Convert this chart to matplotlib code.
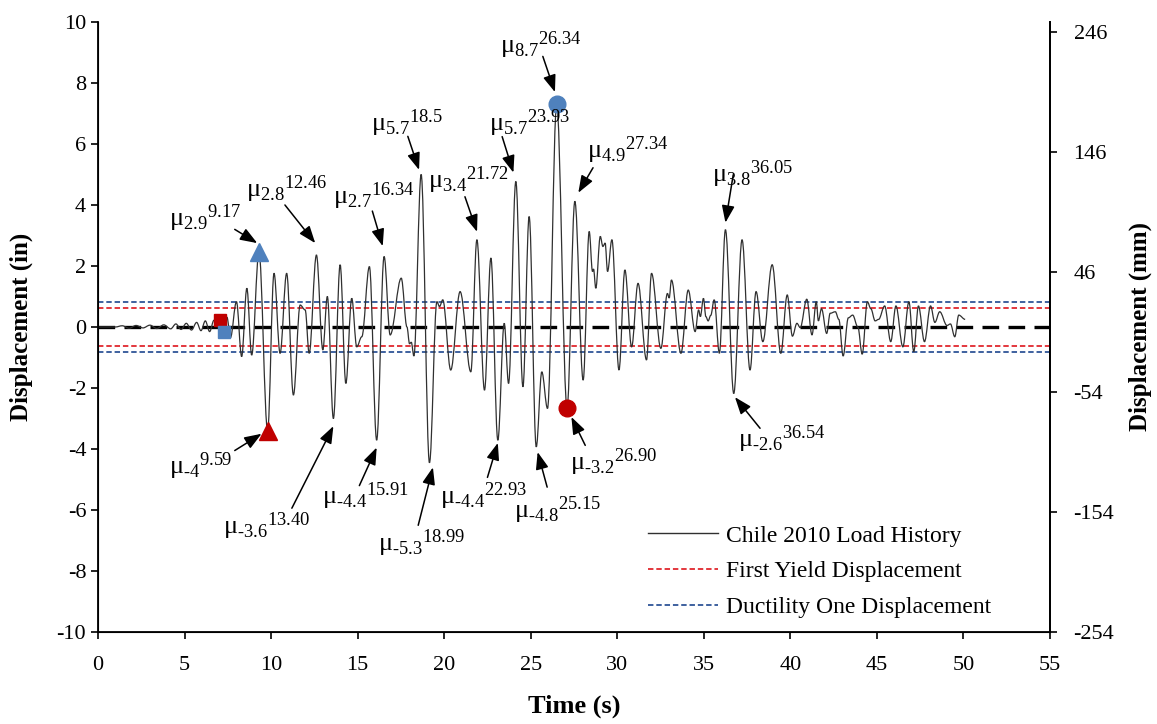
import matplotlib
matplotlib.use("Agg")
import matplotlib.pyplot as plt
from matplotlib.path import Path
from matplotlib.patches import PathPatch

plt.rcParams['font.family'] = ['Liberation Serif', 'DejaVu Serif']
plt.rcParams['mathtext.fontset'] = 'custom'
plt.rcParams['mathtext.rm'] = 'Liberation Serif'
plt.rcParams['mathtext.it'] = 'Liberation Serif'
plt.rcParams['axes.unicode_minus'] = False

# load history, peaks (s, in)
time_s = [0, 1.0, 1.4, 1.8, 2.2, 2.6, 3.0, 3.4, 3.8, 4.2, 4.5, 4.8, 5.1, 5.4, 5.7,
          5.95, 6.2, 6.45, 6.7, 6.9, 7.2, 7.45, 7.65,
          8.0, 8.3, 8.6, 8.88, 9.3, 9.8, 10.17, 10.52, 10.9, 11.29, 11.68, 11.97,
          12.2, 12.62, 12.99, 13.25, 13.6, 13.99, 14.32, 14.66, 14.95, 15.24, 15.68,
          16.1, 16.53, 16.88, 17.52, 17.85, 18.0, 18.1, 18.25, 18.67, 19.15,
          19.58, 19.73, 19.92, 20.38, 20.92, 21.54, 21.89, 22.33, 22.7, 23.1,
          23.47, 23.72, 24.14, 24.55, 24.91, 25.32, 25.64, 25.97, 26.5, 27.1,
          27.55, 28.03, 28.38, 28.57, 28.63, 28.76, 29.02, 29.17, 29.3, 29.44,
          29.69, 30.1, 30.44, 30.83, 31.2, 31.69, 31.98, 32.52, 32.9, 33.0, 33.13,
          33.68, 34.1, 34.5, 34.7, 34.8, 34.98, 35.12, 35.25, 35.4, 35.6, 35.9,
          36.25, 36.73, 37.21, 37.67, 38.02, 38.41, 38.95, 39.45, 39.82, 40.12,
          40.38, 40.57, 40.95, 41.25, 41.5, 41.62, 41.8, 42.1, 42.3, 42.6, 42.8,
          43.05, 43.35, 43.6, 43.9, 44.15, 44.45, 44.65, 44.9, 45.1, 45.45, 45.8,
          46.1, 46.5, 46.85, 47.13, 47.4, 47.75, 48.1, 48.35, 48.63, 49.05, 49.25,
          49.5, 49.73, 50.1]
disp_in = [0, 0, 0.04, -0.04, 0.05, -0.03, 0.06, -0.05, 0.07, -0.06, 0.1, -0.08,
           0.12, -0.1, 0.15, -0.12, 0.2, -0.15, 0.22, 0.1, -0.15, 0.32, -0.35,
           0.83, -0.97, 1.27, -0.92, 2.45, -3.4, 1.76, -0.86, 1.76, -2.23, 0.72,
           0.56, -0.86, 2.36, -0.75, 1.0, -3.0, 2.04, -1.85, 0.94, -0.65, -0.32,
           1.98, -3.71, 2.31, -0.26, 1.6, 0.0, -0.55, -0.5, -0.95, 5.0, -4.45,
           0.83, 0.67, 0.89, -1.41, 1.16, -1.47, 2.86, -2.07, 2.26, -3.71,
           0.12, -1.85, 4.77, -1.96, 3.62, -3.93, -1.47, -2.67, 7.3, -2.65,
           4.12, -1.74, 3.13, 1.82, 1.9, 1.27, 2.97, 2.64, 2.75, 1.82,
           2.86, -1.41, 1.87, -0.65, 1.43, -1.08, 1.76, -0.7, 1.1, 0.95, 1.54,
           -0.86, 1.21, -0.15, 0.56, 0.34, 0.94, 0.34, 0.2, 0.38, 0.89, -0.86,
           3.19, -2.18, 2.86, -1.41, 1.16, -0.48, 2.04, -0.86, 1.05, -0.3,
           0.12, -0.02, 0.91, -0.26, 0.83, 0.2, 0.6, -0.21, 0.45, 0.5, 0.25,
           -0.95, 0.3, 0.39, 0.0, -0.89, 0.83, 0.6, 0.2, 0.25, 0.69, -0.48,
           0.69, -0.65, 0.83, -0.81, 0.69, -0.48, 0.69, 0.15, 0.5, 0.05, 0.1,
           -0.32, 0.39, 0.25]

first_yield = 0.63
ductility_one = 0.83

# markers: (time, disp)
yield_sq = (7.05, 0.22)
duct_sq = (7.27, -0.17)
pos_tri = (9.3, 2.45)
neg_tri = (9.8, -3.4)
pos_circ = (26.5, 7.3)
neg_circ = (27.1, -2.65)

# ductility labels: sub, sup, text pos, arrow tail, arrow tip
notes = [
    ("2.9", "9.17", (4.1, 3.55), (7.9, 3.2), (9.2, 2.75)),
    ("2.8", "12.46", (8.55, 4.5), (10.8, 4.0), (12.55, 2.75)),
    ("2.7", "16.34", (13.55, 4.3), (15.85, 3.8), (16.45, 2.65)),
    ("5.7", "18.5", (15.8, 6.67), (17.9, 6.25), (18.55, 5.15)),
    ("3.4", "21.72", (19.05, 4.8), (21.2, 4.27), (21.9, 3.12)),
    ("5.7", "23.93", (22.6, 6.67), (23.35, 6.24), (24.0, 5.06)),
    ("8.7", "26.34", (23.2, 9.23), (25.7, 8.87), (26.4, 7.7)),
    ("4.9", "27.34", (28.25, 5.78), (28.6, 5.22), (27.75, 4.4)),
    ("3.8", "36.05", (35.45, 5.02), (36.7, 4.99), (36.25, 3.42)),
    ("-4", "9.59", (4.1, -4.56), (7.9, -4.05), (9.45, -3.5)),
    ("-3.6", "13.40", (7.2, -6.54), (11.2, -5.94), (13.6, -3.25)),
    ("-4.4", "15.91", (12.95, -5.55), (15.1, -5.2), (16.1, -3.95)),
    ("-5.3", "18.99", (16.15, -7.09), (18.5, -6.5), (19.35, -4.6)),
    ("-4.4", "22.93", (19.75, -5.55), (22.5, -4.93), (23.1, -3.8)),
    ("-4.8", "25.15", (24.05, -6.01), (25.95, -5.25), (25.4, -4.1)),
    ("-3.2", "26.90", (27.25, -4.43), (28.15, -3.88), (27.35, -2.95)),
    ("-2.6", "36.54", (36.95, -3.68), (38.25, -3.32), (36.8, -2.3)),
]

mm_ticks = [246, 146, 46, -54, -154, -254]

red = '#E0282E'
blue = '#2F5597'
mk_red = '#C00000'
mk_blue = '#4F81BD'
line_c = '#303030'

fig = plt.figure(figsize=(11.57, 7.24), dpi=100)
ax = fig.add_axes([0.0847, 0.127, 0.8228, 0.8427])

ax.axhline(0, color='black', lw=2.4, ls=(0, (5, 2.8)), zorder=1)
for v in (first_yield, -first_yield):
    ax.axhline(v, color=red, lw=1.3, ls=(0, (3, 1.6)), zorder=2)
for v in (ductility_one, -ductility_one):
    ax.axhline(v, color=blue, lw=1.3, ls=(0, (3, 1.6)), zorder=2)

# smooth curve through the read peaks (bezier, flat at each vertex)
verts = [(time_s[0], disp_in[0])]
codes = [Path.MOVETO]
for t0, d0, t1, d1 in zip(time_s, disp_in, time_s[1:], disp_in[1:]):
    dt = t1 - t0
    verts += [(t0 + 0.36 * dt, d0), (t1 - 0.36 * dt, d1), (t1, d1)]
    codes += [Path.CURVE4] * 3
ax.add_patch(PathPatch(Path(verts, codes), fill=False, ec=line_c, lw=0.9, zorder=3))

ax.plot(*yield_sq, marker='s', ms=8, color=mk_red, zorder=4)
ax.plot(*duct_sq, marker='s', ms=8, color=mk_blue, zorder=4)
ax.plot(*pos_tri, marker='^', ms=13, color=mk_blue, zorder=4)
ax.plot(*neg_tri, marker='^', ms=13, color=mk_red, zorder=4)
ax.plot(*pos_circ, marker='o', ms=12, color=mk_blue, zorder=4)
ax.plot(*neg_circ, marker='o', ms=12, color=mk_red, zorder=4)

for sub, sup, txt, tail, tip in notes:
    sub = sub.replace('-', r'\text{-}')
    ax.text(txt[0], txt[1], r'$\mathregular{μ_{%s}{}^{%s}}$' % (sub, sup),
            fontsize=19, ha='left', va='center', zorder=5)
    ax.annotate('', xy=tip, xytext=tail,
                arrowprops=dict(arrowstyle='-|>,head_length=0.8,head_width=0.3',
                                color='black', lw=1.1, shrinkA=0, shrinkB=0,
                                mutation_scale=13), zorder=5)

ax.set_xlim(0, 55)
ax.set_ylim(-10, 10)
ax.set_xticks(range(0, 56, 5))
ax.set_yticks(range(-10, 11, 2))
ax.tick_params(labelsize=16, direction='out', length=5, width=1.2)
ax.tick_params(axis='x', pad=12)
ax.spines['top'].set_visible(False)
for s in ('left', 'bottom', 'right'):
    ax.spines[s].set_linewidth(1.3)
ax.set_xlabel('Time (s)', fontsize=19, fontweight='bold', labelpad=14)
ax.set_ylabel('Displacement (in)', fontsize=18, fontweight='bold', labelpad=17)

ax2 = ax.twinx()
ax2.set_ylim(-254, 254)
ax2.set_yticks(mm_ticks)
ax2.tick_params(labelsize=16, direction='out', length=5, width=1.2, pad=12)
ax2.spines['top'].set_visible(False)
ax2.spines['right'].set_linewidth(1.3)
ax2.set_ylabel('Displacement (mm)', fontsize=18, fontweight='bold', labelpad=10)

handles = [
    plt.Line2D([], [], color=line_c, lw=1.0),
    plt.Line2D([], [], color=red, lw=1.3, ls=(0, (3, 1.6))),
    plt.Line2D([], [], color=blue, lw=1.3, ls=(0, (3, 1.6))),
]
labels = ['Chile 2010 Load History', 'First Yield Displacement',
          'Ductility One Displacement']
ax.legend(handles, labels, loc='upper left', bbox_to_anchor=(0.555, 0.21),
          frameon=False, fontsize=17, handlelength=3.0, handletextpad=0.3,
          labelspacing=0.6)

fig.savefig('out.png', dpi=100)
